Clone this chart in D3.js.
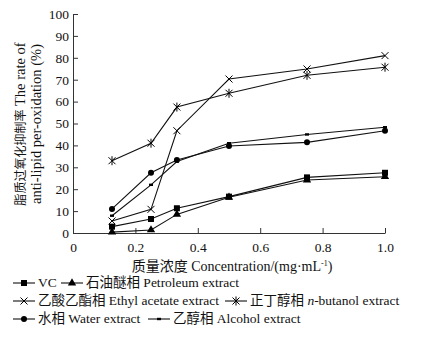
<!DOCTYPE html>
<html>
<head>
<meta charset="utf-8">
<script src="https://cdn.jsdelivr.net/npm/d3@7"></script>
<style>
  body { margin: 0; background: #fff; }
  svg text { font-family: "Liberation Serif", "Noto Sans CJK SC", serif; fill: #111; }
</style>
</head>
<body>
<div id="chart"></div>
<script>
// data
const conc = [0.125, 0.25, 0.333, 0.5, 0.75, 1.0];
const vc = [2.9, 6.4, 11.3, 16.6, 25.4, 27.5];
const petroleum = [0.4, 1.4, 8.5, 16.3, 24.2, 25.7];
const ethylAcetate = [5.5, 10.8, 46.7, 70.3, 74.9, 81];
const butanol = [33, 41, 57.5, 63.8, 72, 75.7];
const water = [11, 27.5, 33.3, 39.7, 41.4, 46.7];
const alcohol = [7.9, 22, 32.6, 41, 45, 48.3];
const xTicks = [0, 0.2, 0.4, 0.6, 0.8, 1.0];
const yTicks = [0, 10, 20, 30, 40, 50, 60, 70, 80, 90, 100];

const series = [
  {name: "VC", values: vc, marker: "square"},
  {name: "石油醚相 Petroleum extract", values: petroleum, marker: "triangle"},
  {name: "乙酸乙酯相 Ethyl acetate extract", values: ethylAcetate, marker: "cross"},
  {name: "正丁醇相 n-butanol extract", values: butanol, marker: "star"},
  {name: "水相 Water extract", values: water, marker: "circle"},
  {name: "乙醇相 Alcohol extract", values: alcohol, marker: "dash"}
];

const width = 434, height = 344;
const margin = {top: 14, right: 49, bottom: 111, left: 73};

const svg = d3.select("#chart").append("svg")
  .attr("width", width)
  .attr("height", height);

const x = d3.scaleLinear().domain([0, 1]).range([margin.left, width - margin.right]);
const y = d3.scaleLinear().domain([0, 100]).range([height - margin.bottom, margin.top]);

// axes, ticks point inward
svg.append("g")
  .attr("transform", "translate(0," + y(0) + ")")
  .call(d3.axisBottom(x).tickValues(xTicks).tickSizeInner(-5).tickSizeOuter(0)
    .tickPadding(9).tickFormat(d => d === 0 ? "0" : d3.format(".1f")(d)));

svg.append("g")
  .attr("transform", "translate(" + x(0) + ",0)")
  .call(d3.axisLeft(y).tickValues(yTicks).tickSizeInner(-5).tickSizeOuter(0).tickPadding(4));

svg.selectAll(".domain, .tick line").attr("stroke", "#333");
svg.selectAll(".tick text").attr("font-size", 13.5).attr("fill", "#111")
  .attr("font-family", "Liberation Serif");

// marker drawing
function drawMarker(g, type, cx, cy) {
  if (type === "square") {
    g.append("rect").attr("x", cx - 3).attr("y", cy - 3).attr("width", 6).attr("height", 6).attr("fill", "#000");
  } else if (type === "triangle") {
    g.append("path").attr("d", d3.symbol(d3.symbolTriangle, 30)()).attr("transform", "translate(" + cx + "," + cy + ")").attr("fill", "#000");
  } else if (type === "cross") {
    g.append("path").attr("d", "M-3.5,-3.5L3.5,3.5M-3.5,3.5L3.5,-3.5").attr("transform", "translate(" + cx + "," + cy + ")").attr("stroke", "#000").attr("stroke-width", 1);
  } else if (type === "star") {
    g.append("path").attr("d", "M-3.5,-3.5L3.5,3.5M-3.5,3.5L3.5,-3.5M0,-4.5L0,4.5").attr("transform", "translate(" + cx + "," + cy + ")").attr("stroke", "#000").attr("stroke-width", 1);
  } else if (type === "circle") {
    g.append("circle").attr("cx", cx).attr("cy", cy).attr("r", 3).attr("fill", "#000");
  } else if (type === "dash") {
    g.append("rect").attr("x", cx - 2).attr("y", cy - 1.2).attr("width", 4).attr("height", 2.4).attr("fill", "#000");
  }
}

const line = d3.line().x((d, i) => x(conc[i])).y(d => y(d));

series.forEach(s => {
  const g = svg.append("g");
  g.append("path").attr("d", line(s.values)).attr("fill", "none").attr("stroke", "#111").attr("stroke-width", 1.1);
  s.values.forEach((v, i) => drawMarker(g, s.marker, x(conc[i]), y(v)));
});

// axis titles
const xTitle = svg.append("text")
  .attr("x", 232).attr("y", 271)
  .attr("text-anchor", "middle").attr("font-size", 14);
xTitle.append("tspan").text("质量浓度 Concentration/(mg·mL");
xTitle.append("tspan").attr("font-size", 8).attr("dy", -5).text("-1");
xTitle.append("tspan").attr("dy", 5).text(")");

const yTitle = svg.append("text")
  .attr("transform", "translate(0,124) rotate(-90)")
  .attr("text-anchor", "middle").attr("font-size", 14.5);
const yl1 = yTitle.append("tspan").attr("x", 0).attr("y", 25);
yl1.append("tspan").attr("font-size", 12).text("脂质过氧化抑制率");
yl1.append("tspan").text(" The rate of");
yTitle.append("tspan").attr("x", 0).attr("y", 41).text("anti-lipid per-oxidation (%)");

// legend
const legendPos = [
  {lx: 13, ty: 287}, {lx: 61, ty: 287},
  {lx: 13, ty: 305}, {lx: 225, ty: 305},
  {lx: 13, ty: 323}, {lx: 148, ty: 323}
];

series.forEach((s, i) => {
  const p = legendPos[i];
  const g = svg.append("g");
  g.append("line").attr("x1", p.lx).attr("x2", p.lx + 22).attr("y1", p.ty - 4).attr("y2", p.ty - 4)
    .attr("stroke", "#111").attr("stroke-width", 1.1);
  drawMarker(g, s.marker, p.lx + 11, p.ty - 4);
  const t = g.append("text").attr("x", p.lx + 25).attr("y", p.ty).attr("font-size", 13.5);
  if (s.marker === "star") {
    t.append("tspan").text("正丁醇相 ");
    t.append("tspan").attr("font-style", "italic").text("n");
    t.append("tspan").text("-butanol extract");
  } else {
    t.text(s.name);
  }
});
</script>
</body>
</html>
